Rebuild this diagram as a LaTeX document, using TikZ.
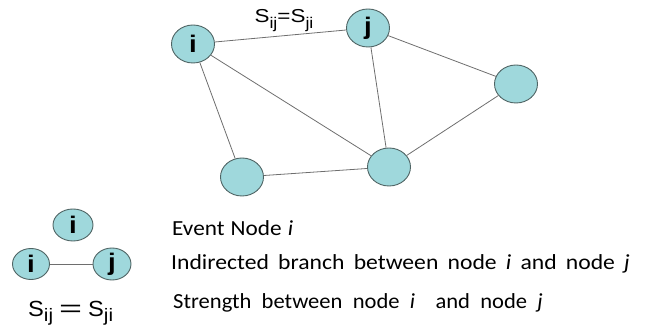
\documentclass[tikz,border=0pt]{standalone}
\usepackage{fontspec}
\setmainfont{Carlito}
\newfontfamily\formfont{Liberation Sans}
\usetikzlibrary{shapes.geometric}
\definecolor{nodefill}{HTML}{9FD8DC}
\definecolor{nodeline}{HTML}{4F6464}
\definecolor{edgecol}{HTML}{6E6E6E}
\tikzset{
  evnode/.style={ellipse, draw=nodeline, fill=nodefill, line width=0.9pt, inner sep=0pt,
    minimum width=43pt, minimum height=38pt, font=\formfont\fontsize{24}{26}\selectfont\bfseries},
  smallnode/.style={evnode, minimum width=37pt, minimum height=31pt},
  edge/.style={draw=edgecol, line width=0.8pt},
  legtext/.style={anchor=base west, inner sep=0pt, font=\fontsize{21.5}{24}\selectfont}
}
% #1 lowering, #2 size, #3 text
\newcommand{\mysub}[3]{\raisebox{-#1}{\fontsize{#2}{#2}\selectfont\scalebox{1.15}[1]{#3}}}
% #1 xscale, #2 width, #3 text
\newcommand{\wtext}[3]{\scalebox{#1}[1]{\makebox[#2][s]{#3}}}
\newcommand{\lett}[1]{\scalebox{1.15}[1]{#1}}
\begin{document}
\begin{tikzpicture}[x=1pt,y=-1pt]
\useasboundingbox (0,0) rectangle (646,328);
% main graph
\node[evnode] (i) at (193,44) {\lett{i}};
\node[evnode] (j) at (368,28) {\lett{j}};
\node[evnode] (r) at (516,84) {};
\node[evnode] (bm) at (389,167) {};
\node[evnode] (bl) at (242,177) {};
\draw[edge] (i) -- (j);
\draw[edge] (i) -- (bl);
\draw[edge] (i) -- (bm);
\draw[edge] (j) -- (bm);
\draw[edge] (j) -- (r);
\draw[edge] (r) -- (bm);
\draw[edge] (bl) -- (bm);
\node[anchor=base, inner sep=0pt, font=\formfont\fontsize{18.7}{20}\selectfont] (lab) at (284,22.7)
  {\scalebox{1.2}[1]{S}\mysub{6pt}{15.5}{ij}\scalebox{1.2}[1]{=}\scalebox{1.2}[1]{S}\mysub{6pt}{15.5}{ji}};
% legend
\node[evnode, minimum width=40pt, minimum height=32pt] (li) at (73,225) {\lett{i}};
\node[smallnode] (la) at (31,264) {\lett{i}};
\node[smallnode, minimum width=38pt, minimum height=32pt] (lb) at (112,264) {\lett{j}};
\draw[edge] (la) -- (lb);
\node[anchor=base west, inner sep=0pt, font=\formfont\fontsize{21.9}{24}\selectfont] (ls) at (28,317)
  {\scalebox{1.08}[1]{S}\mysub{5pt}{18}{ij}\hspace{6pt}\scalebox{1.8}[1.05]{=}\hspace{6pt}\scalebox{1.08}[1]{S}\mysub{5pt}{18}{ji}};
\node[legtext] (t1) at (172,236) {\wtext{1.08}{112pt}{Event Node \textit{i}}};
\node[legtext] (t2) at (171,270) {\wtext{1.1}{417pt}{Indirected branch between node \textit{i} and node \textit{j}}};
\node[legtext] (t3) at (173,309) {\wtext{1.05}{352pt}{Strength between node \textit{i}\ \ and node \textit{j}}};
\end{tikzpicture}
\end{document}
